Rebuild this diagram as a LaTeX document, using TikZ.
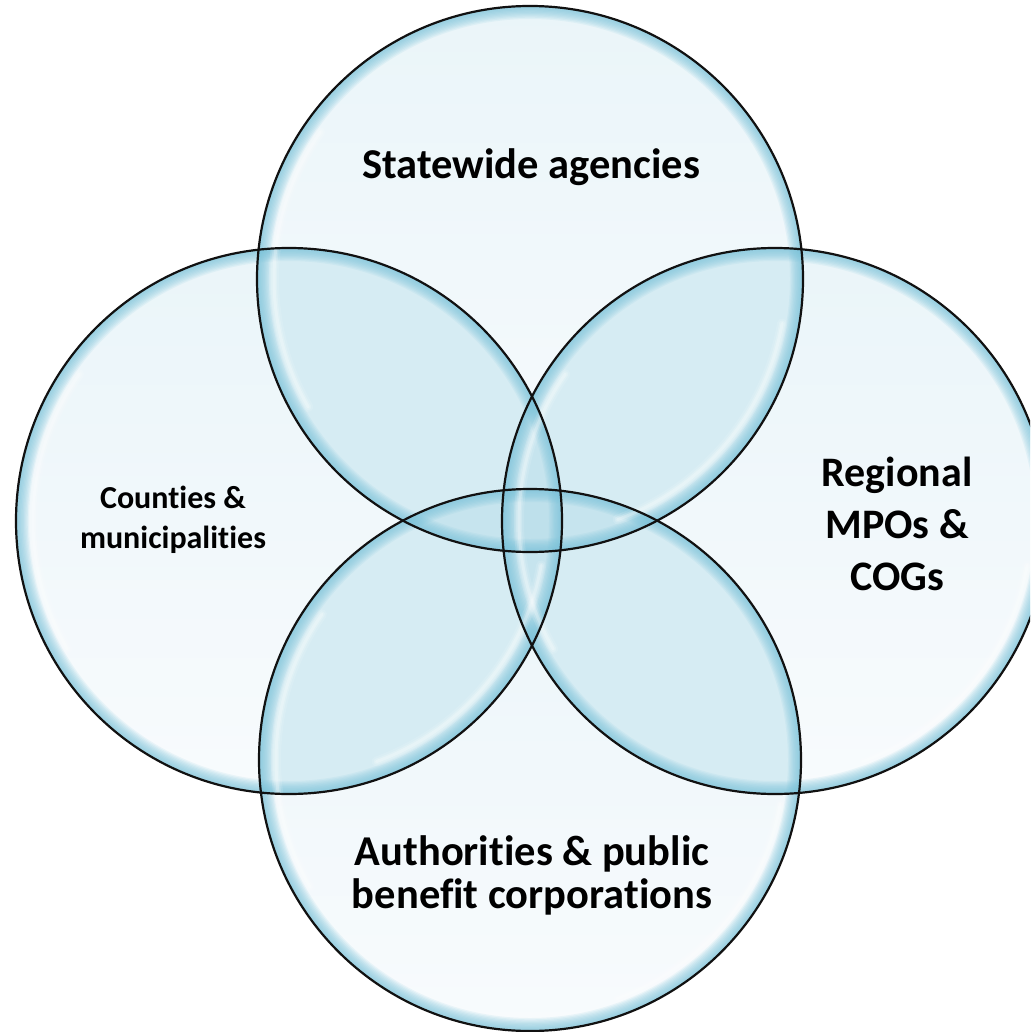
\documentclass[tikz,border=0pt]{standalone}
\usepackage{fontspec}
\setmainfont{Carlito}[RawFeature=-liga]
\definecolor{singleTop}{HTML}{EAF5F9}
\definecolor{singleBot}{HTML}{F8FBFD}
\definecolor{dblc}{HTML}{D6ECF3}
\definecolor{tric}{HTML}{C6E4EE}
\definecolor{quadc}{HTML}{BEE0EB}
\definecolor{rimc}{HTML}{7CC4DB}
\definecolor{edgec}{HTML}{111111}
\def\CirT{(530,279) circle[radius=273]}
\def\CirL{(289,521) circle[radius=273]}
\def\CirR{(775,521) circle[radius=273]}
\def\CirB{(530,760) circle[radius=271]}
\begin{document}
\begin{tikzpicture}[x=1pt,y=-1pt,
  lbl/.style={font=\bfseries\fontsize{42.5}{46}\selectfont, align=center, text=black, inner sep=0pt},
  lblsmall/.style={font=\bfseries\fontsize{32}{40}\selectfont, align=center, text=black, inner sep=0pt},
  single/.style={top color=singleTop, bottom color=singleBot},
  dbl/.style={fill=dblc},
  tri/.style={fill=tric},
  quad/.style={fill=quadc},
  rimstroke/.style={draw=rimc, draw opacity=0.12},
  shine/.style={draw=white, line cap=round},
  outline/.style={draw=edgec, line width=2.2pt}]
\useasboundingbox (0,0) rectangle (1030,1032);
\clip (0,0) rectangle (1030,1032);
\coordinate (cT) at (530,279);
\coordinate (cL) at (289,521);
\coordinate (cR) at (775,521);
\coordinate (cB) at (530,760);
% base fills
\shade[single] \CirT;
\shade[single] \CirL;
\shade[single] \CirR;
\shade[single] \CirB;
% pairwise overlaps
\begin{scope}\clip \CirT; \fill[dbl] \CirL; \fill[dbl] \CirR; \fill[dbl] \CirB;\end{scope}
\begin{scope}\clip \CirL; \fill[dbl] \CirR; \fill[dbl] \CirB;\end{scope}
\begin{scope}\clip \CirR; \fill[dbl] \CirB;\end{scope}
% triple overlaps
\begin{scope}\clip \CirT; \clip \CirL; \fill[tri] \CirR; \fill[tri] \CirB;\end{scope}
\begin{scope}\clip \CirT; \clip \CirR; \fill[tri] \CirB;\end{scope}
\begin{scope}\clip \CirL; \clip \CirR; \fill[tri] \CirB;\end{scope}
% quadruple overlap
\begin{scope}\clip \CirT; \clip \CirL; \clip \CirR; \fill[quad] \CirB;\end{scope}
% rim shading
\begin{scope}\clip \CirT; \foreach \i in {1,...,10} \draw[rimstroke, line width=2.6*\i pt] \CirT; \end{scope}
\begin{scope}\clip \CirL; \foreach \i in {1,...,10} \draw[rimstroke, line width=2.6*\i pt] \CirL; \end{scope}
\begin{scope}\clip \CirR; \foreach \i in {1,...,10} \draw[rimstroke, line width=2.6*\i pt] \CirR; \end{scope}
\begin{scope}\clip \CirB; \foreach \i in {1,...,10} \draw[rimstroke, line width=2.6*\i pt] \CirB; \end{scope}
% glossy highlights
\foreach \cx/\cy/\r in {530/279/273, 289/521/273, 775/521/273, 530/760/271}{
  \foreach \w/\o in {10/0.12, 6/0.18, 3/0.25}{
    \draw[shine, line width=\w pt, draw opacity=\o] (\cx,\cy) ++(150:\r-17) arc[start angle=150, end angle=215, radius=\r-17];
    \draw[shine, line width=\w pt, draw opacity=\o] (\cx,\cy) ++(10:\r-17) arc[start angle=10, end angle=70, radius=\r-17];
  }
}
% outlines
\draw[outline] \CirT;
\draw[outline] \CirL;
\draw[outline] \CirR;
\draw[outline] \CirB;
% labels
\node[lbl] (tS) at (531,167) {Statewide agencies};
\node[lbl, font=\bfseries\fontsize{42}{52}\selectfont] (tR) at (897,524) {Regional\\MPOs \&\\COGs};
\node[lbl, font=\bfseries\fontsize{42.5}{43}\selectfont] (tB) at (532,875) {Authorities \& public\\benefit corporations};
\node[lblsmall] (tL) at (173,520) {Counties \&\\municipalities};
\end{tikzpicture}
\end{document}
